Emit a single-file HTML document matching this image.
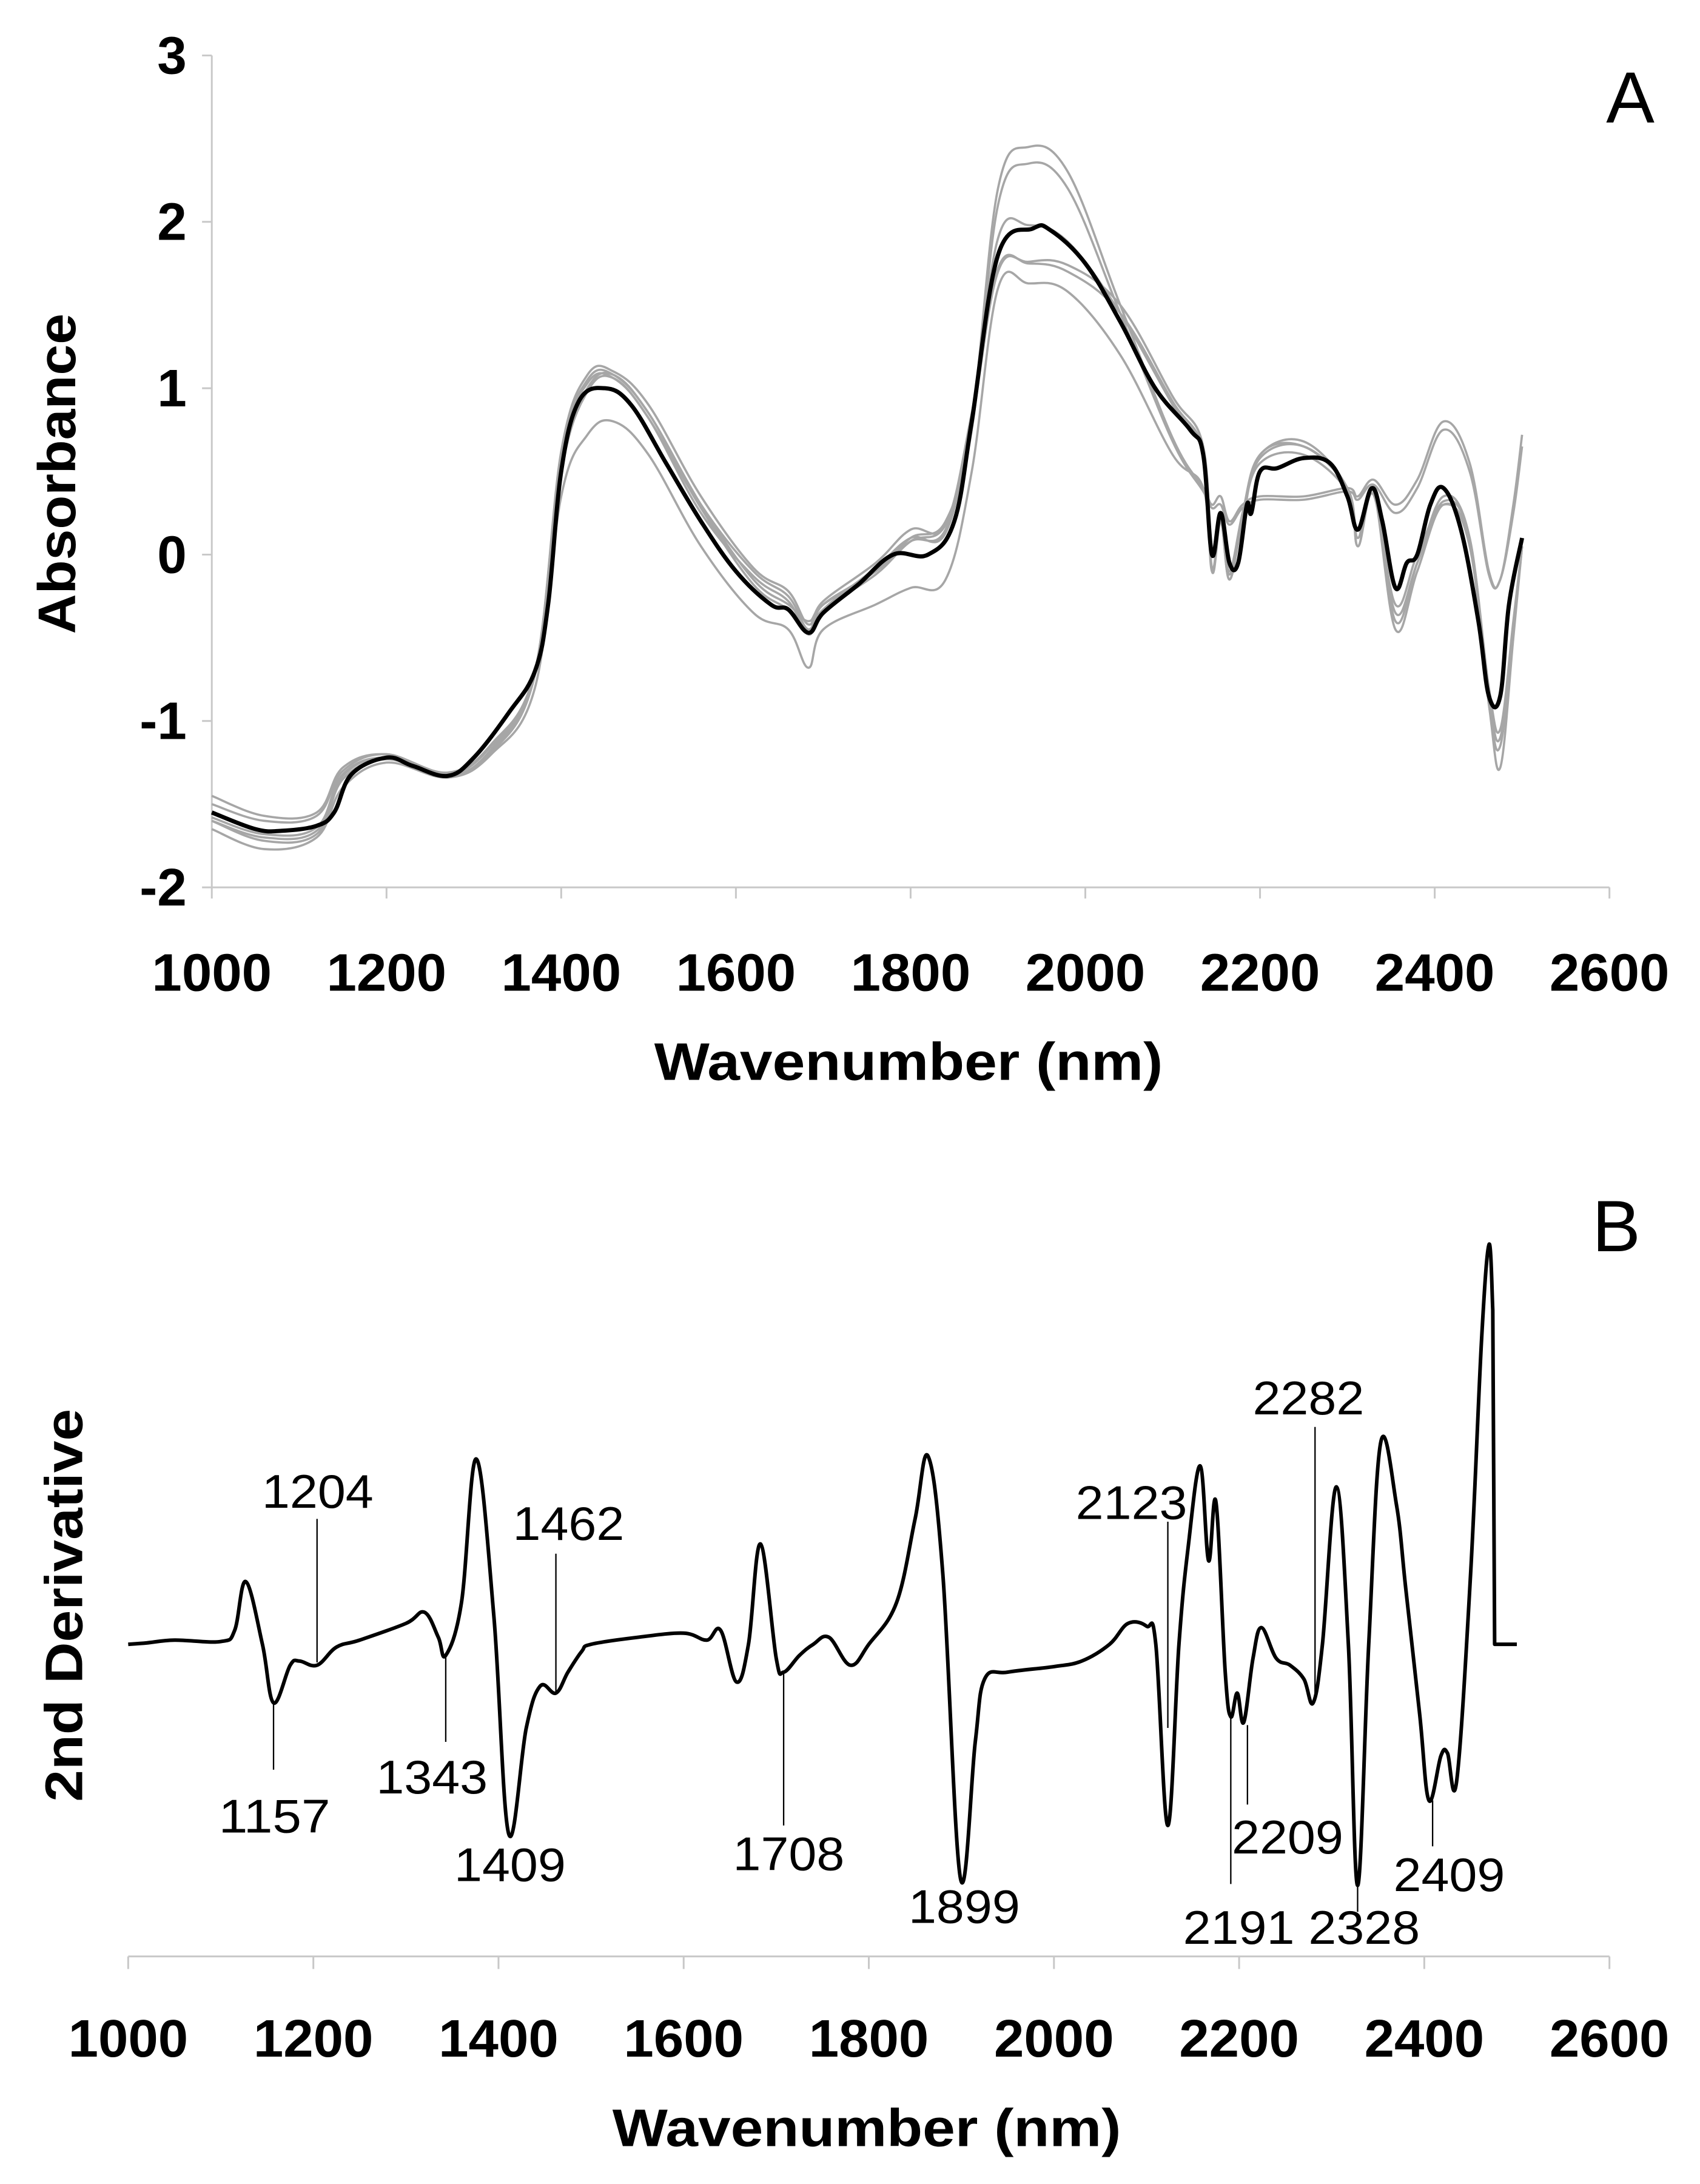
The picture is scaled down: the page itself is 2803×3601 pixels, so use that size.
<!DOCTYPE html>
<html><head><meta charset="utf-8"><style>
html,body{margin:0;padding:0;background:#fff}
svg{display:block}
text{font-family:"Liberation Sans",sans-serif}
</style></head><body>
<svg id="fig" width="2803" height="3601" viewBox="0 0 1220 1567.3" preserveAspectRatio="none" xmlns="http://www.w3.org/2000/svg">
<g id="pa"></g>
<g id="pb"></g>
</svg>
<script>
// Panel A data
const blackNm=[1000,1050,1080,1120,1140,1160,1200,1230,1270,1300,1340,1370,1385,1400,1420,1450,1480,1520,1560,1600,1640,1660,1683,1700,1740,1780,1820,1850,1870,1900,1940,1960,2000,2040,2080,2120,2135,2145,2155,2165,2175,2185,2190,2200,2220,2250,2280,2300,2312,2328,2340,2355,2368,2380,2395,2410,2430,2450,2462,2475,2485,2500];
const blackAbs=[-1.55,-1.65,-1.66,-1.63,-1.55,-1.32,-1.22,-1.27,-1.33,-1.22,-0.95,-0.7,-0.3,0.5,0.92,1.0,0.9,0.55,0.2,-0.1,-0.3,-0.33,-0.47,-0.35,-0.18,0.0,0.0,0.2,0.8,1.8,1.96,1.95,1.75,1.4,1.0,0.75,0.6,0.0,0.25,-0.05,-0.05,0.3,0.25,0.5,0.52,0.58,0.55,0.35,0.15,0.4,0.2,-0.2,-0.05,0.0,0.3,0.4,0.15,-0.4,-0.85,-0.85,-0.3,0.1];
const grayNm=[1000,1060,1120,1150,1200,1270,1320,1370,1400,1430,1460,1500,1560,1620,1660,1683,1700,1760,1800,1840,1870,1900,1935,1980,2040,2100,2135,2145,2155,2165,2180,2200,2250,2300,2312,2330,2355,2380,2410,2440,2462,2475,2490,2500];
const gray1=[-1.5,-1.6,-1.57,-1.3,-1.2,-1.32,-1.15,-0.72,0.55,1.0,1.08,0.85,0.3,-0.15,-0.3,-0.4,-0.3,-0.1,0.1,0.2,0.8,2.2,2.45,2.3,1.5,0.7,0.4,0.3,0.35,0.2,0.3,0.35,0.35,0.4,0.35,0.45,0.3,0.45,0.8,0.55,-0.1,-0.15,0.3,0.72];
const gray2=[-1.45,-1.57,-1.55,-1.28,-1.2,-1.31,-1.14,-0.7,0.5,0.98,1.06,0.82,0.28,-0.18,-0.33,-0.45,-0.33,-0.12,0.08,0.18,0.75,2.1,2.35,2.2,1.45,0.68,0.38,0.28,0.3,0.18,0.28,0.33,0.33,0.38,0.33,0.42,0.25,0.4,0.75,0.5,-0.12,-0.15,0.25,0.65];
const gray3=[-1.65,-1.77,-1.7,-1.4,-1.25,-1.34,-1.2,-0.8,0.35,0.72,0.8,0.6,0.05,-0.35,-0.45,-0.68,-0.45,-0.3,-0.2,-0.15,0.5,1.6,1.63,1.58,1.2,0.6,0.4,-0.1,0.2,-0.15,0.2,0.6,0.65,0.4,0.1,0.38,-0.45,-0.1,0.3,0.05,-0.9,-1.28,-0.5,0.05];
const gray4=[-1.6,-1.7,-1.66,-1.33,-1.22,-1.33,-1.18,-0.7,0.6,1.05,1.08,0.85,0.3,-0.1,-0.25,-0.45,-0.3,-0.1,0.08,0.15,0.8,1.9,1.98,1.88,1.45,0.9,0.6,-0.1,0.22,-0.12,0.25,0.6,0.68,0.4,0.05,0.38,-0.4,-0.05,0.35,0.1,-0.9,-1.15,-0.45,0.05];
const gray5=[-1.6,-1.72,-1.68,-1.35,-1.23,-1.33,-1.19,-0.72,0.6,1.03,1.06,0.82,0.25,-0.13,-0.28,-0.48,-0.33,-0.08,0.1,0.13,0.8,1.7,1.76,1.74,1.5,0.95,0.65,-0.1,0.2,-0.15,0.22,0.58,0.65,0.4,0.05,0.36,-0.35,-0.05,0.32,0.1,-0.85,-1.1,-0.45,0.05];
const gray6=[-1.58,-1.68,-1.64,-1.32,-1.22,-1.33,-1.17,-0.7,0.62,1.08,1.1,0.9,0.35,-0.08,-0.22,-0.42,-0.28,-0.05,0.15,0.18,0.85,1.72,1.75,1.7,1.45,0.92,0.62,-0.08,0.22,-0.1,0.24,0.55,0.6,0.38,0.1,0.38,-0.3,0.0,0.3,0.08,-0.8,-1.05,-0.4,0.05];
const yTicksA=[-2,-1,0,1,2,3];
const xTicks=[1000,1200,1400,1600,1800,2000,2200,2400,2600];
// Panel B data
const derivNm=[1000,1020,1050,1100,1115,1127,1145,1157,1175,1185,1204,1225,1250,1300,1320,1335,1343,1360,1376,1395,1411,1430,1445,1462,1475,1490,1500,1550,1600,1625,1640,1657,1670,1683,1700,1708,1725,1740,1757,1780,1800,1830,1850,1864,1880,1899,1915,1925,1950,2000,2030,2060,2080,2100,2110,2123,2135,2145,2158,2167,2175,2185,2191,2198,2205,2215,2224,2240,2255,2270,2280,2290,2305,2318,2328,2340,2353,2370,2380,2395,2405,2418,2425,2435,2450,2462,2470,2474,2476,2500];
const derivVal=[0,0.1,0.3,0.2,1,4.5,0,-4.2,-1.5,-1.2,-1.5,-0.2,0.3,1.5,2.3,0.5,-0.8,3,13.3,2,-13.6,-6,-3,-3.5,-2,-0.5,0,0.5,0.8,0.3,1,-2.7,0,7.2,-1,-2,-0.8,0,0.5,-1.5,0,3,9,13.5,5,-16.8,-7,-2.5,-2,-1.6,-1.2,0,1.5,1.3,0,-13,0,7,12.8,6,10.2,-2,-5.2,-3.5,-5.6,-1,1.2,-1,-1.5,-2.5,-4.2,0,11.3,0,-17.3,0,14.5,10,4,-5,-11.2,-8,-7.8,-9.8,5,22,28.7,24,0,0];
const peakLabels=["1204","1157","1343","1409","1462","1708","1899","2123","2191","2209","2282","2328","2409"];
const peakNm=[1204,1157,1343,1409,1462,1708,1899,2123,2191,2209,2282,2328,2409];

const NS="http://www.w3.org/2000/svg";
function mk(parent,tag,attrs,name,txt){const e=document.createElementNS(NS,tag);for(const k in attrs)e.setAttribute(k,attrs[k]);


if(txt!==undefined)e.textContent=txt;parent.appendChild(e);return e;}
function smooth(pts){let d=`M${pts[0][0].toFixed(2)},${pts[0][1].toFixed(2)}`;
for(let i=0;i<pts.length-1;i++){const p0=pts[Math.max(0,i-1)],p1=pts[i],p2=pts[i+1],p3=pts[Math.min(pts.length-1,i+2)];const t=0.18;
const c1=[p1[0]+(p2[0]-p0[0])*t,p1[1]+(p2[1]-p0[1])*t],c2=[p2[0]-(p3[0]-p1[0])*t,p2[1]-(p3[1]-p1[1])*t];
d+=` C${c1[0].toFixed(2)},${c1[1].toFixed(2)} ${c2[0].toFixed(2)},${c2[1].toFixed(2)} ${p2[0].toFixed(2)},${p2[1].toFixed(2)}`;}return d;}

// ---------- Panel A ----------
const pa=document.getElementById('pa');
const xA=nm=>152+(nm-1000)/1600*1003;
const yA=v=>398-v*119.4;
mk(pa,'line',{x1:152,y1:yA(3),x2:152,y2:yA(-2),stroke:'#c8c8c8','stroke-width':1.3},'y-axis-a');
mk(pa,'line',{x1:152,y1:yA(-2),x2:xA(2600),y2:yA(-2),stroke:'#c8c8c8','stroke-width':1.3},'x-axis-a');
yTicksA.forEach(v=>{mk(pa,'line',{x1:145,y1:yA(v),x2:152,y2:yA(v),stroke:'#c8c8c8','stroke-width':1.3},'y-tick-a');
mk(pa,'text',{x:134,y:yA(v)+13,'text-anchor':'end','font-size':38,'font-weight':'bold',fill:'#000'},'y-tick-label-a',String(v));});
xTicks.forEach(t=>{mk(pa,'line',{x1:xA(t),y1:yA(-2),x2:xA(t),y2:yA(-2)+8,stroke:'#c8c8c8','stroke-width':1.3},'x-tick-a');
mk(pa,'text',{x:xA(t),y:711,'text-anchor':'middle','font-size':38,'font-weight':'bold',fill:'#000',textLength:86,lengthAdjust:'spacingAndGlyphs'},'x-tick-label-a',String(t));});
mk(pa,'text',{x:652,y:775,'text-anchor':'middle','font-size':38,'font-weight':'bold',textLength:365,lengthAdjust:'spacingAndGlyphs'},'x-axis-title-a','Wavenumber (nm)');
mk(pa,'text',{x:54,y:340,'text-anchor':'middle','font-size':38,'font-weight':'bold',transform:'rotate(-90 54 340)',textLength:230,lengthAdjust:'spacingAndGlyphs'},'y-axis-title-a','Absorbance');
mk(pa,'text',{x:1170,y:88,'text-anchor':'middle','font-size':52},'panel-label-a','A');
[gray1,gray2,gray3,gray4,gray5,gray6].forEach((s,i)=>{
 mk(pa,'path',{d:smooth(grayNm.map((n,j)=>[xA(n),yA(s[j])])),fill:'none',stroke:'#a6a6a6','stroke-width':1.6},'gray-spectrum-'+(i+1));});
mk(pa,'path',{d:smooth(blackNm.map((n,j)=>[xA(n),yA(blackAbs[j])])),fill:'none',stroke:'#000','stroke-width':3},'mean-spectrum');

// ---------- Panel B ----------
const pb=document.getElementById('pb');
const xB=nm=>92+(nm-1000)/1600*1063;
const yB=v=>1180-v*10;
mk(pb,'line',{x1:92,y1:1404,x2:xB(2600),y2:1404,stroke:'#c8c8c8','stroke-width':1.3},'x-axis-b');
xTicks.forEach(t=>{mk(pb,'line',{x1:xB(t),y1:1404,x2:xB(t),y2:1413,stroke:'#c8c8c8','stroke-width':1.3},'x-tick-b');
mk(pb,'text',{x:xB(t),y:1476,'text-anchor':'middle','font-size':38,'font-weight':'bold',textLength:86,lengthAdjust:'spacingAndGlyphs'},'x-tick-label-b',String(t));});
mk(pb,'text',{x:622,y:1540,'text-anchor':'middle','font-size':38,'font-weight':'bold',textLength:365,lengthAdjust:'spacingAndGlyphs'},'x-axis-title-b','Wavenumber (nm)');
mk(pb,'text',{x:59,y:1152,'text-anchor':'middle','font-size':38,'font-weight':'bold',transform:'rotate(-90 59 1152)',textLength:282,lengthAdjust:'spacingAndGlyphs'},'y-axis-title-b','2nd Derivative');
mk(pb,'text',{x:1160,y:898,'text-anchor':'middle','font-size':52},'panel-label-b','B');
// derivative curve: smooth until the drop, then straight segments
const cut=derivNm.indexOf(2474);
const dpts=derivNm.map((n,j)=>[xB(n),yB(derivVal[j])]);
let dd=smooth(dpts.slice(0,cut+1));
for(let j=cut+1;j<dpts.length;j++)dd+=` L${dpts[j][0].toFixed(2)},${dpts[j][1].toFixed(2)}`;
mk(pb,'path',{d:dd,fill:'none',stroke:'#000','stroke-width':2.6,'stroke-linejoin':'round'},'second-derivative-curve');
// annotations: [textX, textBaseline, lineTop, lineBottom]
const ann=[[228,1082,1090,1193],[197,1315,1222,1270],[310,1287,1188,1250],[366,1350,null,null],[408,1105,1115,1215],[566,1342,1200,1310],[692,1380,null,null],[812,1090,1092,1240],[889,1395,1232,1352],[924,1330,1238,1295],[939,1015,1024,1215],[979,1395,1353,1372],[1040,1357,1292,1325]];
peakLabels.forEach((lab,i)=>{const a=ann[i];
 if(a[2]!==null)mk(pb,'line',{x1:xB(peakNm[i]),y1:a[2],x2:xB(peakNm[i]),y2:a[3],stroke:'#000','stroke-width':1},'peak-leader-'+lab);
 mk(pb,'text',{x:a[0],y:a[1],'text-anchor':'middle','font-size':34,textLength:80,lengthAdjust:'spacingAndGlyphs'},'peak-label-'+lab,lab);});
</script>
</body></html>
